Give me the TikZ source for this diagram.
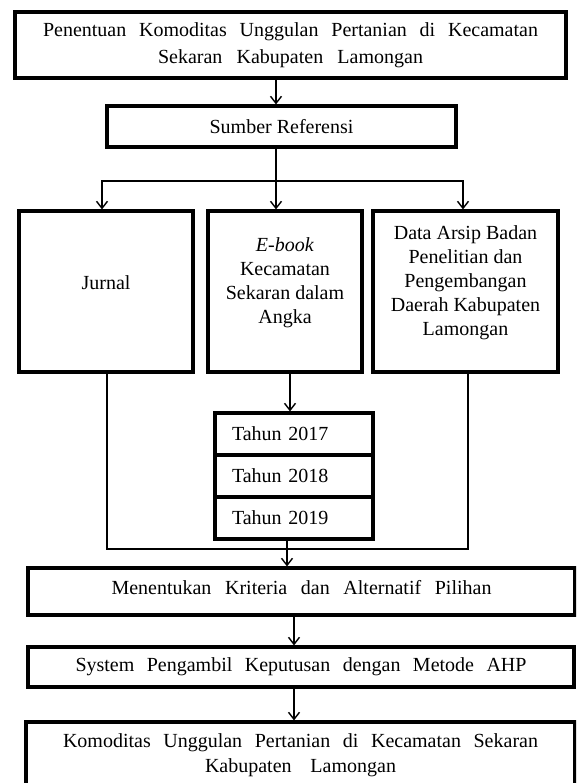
\documentclass[tikz,border=0pt]{standalone}
\usepackage{fontspec}
\setmainfont{Liberation Serif}
\usetikzlibrary{arrows.meta}
\begin{document}
\begin{tikzpicture}[x=1pt,y=-1pt,
  box/.style={draw, line width=3.2pt, inner sep=0pt, font=\fontsize{20}{24}\selectfont, align=center},
  txt/.style={inner sep=0pt, font=\fontsize{20}{24}\selectfont, align=center},
  conn/.style={line width=1.4pt},
  arr/.style={conn, -{Straight Barb[length=7pt,width=11pt,line width=1.4pt]}},
  yearbox/.style={box, minimum width=158pt, minimum height=42pt, text width=124pt, align=left, inner xsep=17pt},
]
\useasboundingbox (0,0) rectangle (576,783);
\clip (0,0) rectangle (576,783);
\fill[white] (0,0) rectangle (576,783);

% boxes
\node[box, minimum width=551pt, minimum height=66pt, font=\fontsize{20}{27}\selectfont] (judul) at (290.5,45)
  {\makebox[495pt][s]{Penentuan Komoditas Unggulan Pertanian di Kecamatan}\\\makebox[265pt][s]{Sekaran Kabupaten Lamongan}};
\node[box, minimum width=349pt, minimum height=41pt] (sumber) at (281.5,126.5) {Sumber Referensi};

\node[box, minimum width=174pt, minimum height=161pt] (jurnal) at (106,291.5) {};
\node[box, minimum width=154pt, minimum height=161pt] (ebook) at (285,291.5) {};
\node[box, minimum width=185pt, minimum height=161pt] (data) at (465.5,291.5) {};
\node[txt] (jurnalt) at ([yshift=9pt]jurnal.center) {Jurnal};
\node[txt] (ebookt) at ([yshift=9pt]ebook.center) {\textit{E-book}\\Kecamatan\\Sekaran dalam\\Angka};
\node[txt] (datat) at ([yshift=9pt]data.center) {Data Arsip Badan\\Penelitian dan\\Pengembangan\\Daerah Kabupaten\\Lamongan};

\node[yearbox] (t2017) at (294,434) {Tahun 2017};
\node[yearbox] (t2018) at (294,476) {Tahun 2018};
\node[yearbox] (t2019) at (294,518) {Tahun 2019};

\node[box, minimum width=547pt, minimum height=47pt] (menentukan) at (301.5,591.5) {};
\node[txt] (menentukant) at ([yshift=4pt]menentukan.center) {\makebox[380pt][s]{Menentukan Kriteria dan Alternatif Pilihan}};
\node[box, minimum width=546pt, minimum height=40pt] (spk) at (301,667) {\makebox[451pt][s]{System Pengambil Keputusan dengan Metode AHP}};
\node[box, minimum width=549pt, minimum height=67pt, font=\fontsize{20}{25}\selectfont] (hasil) at (300.5,755.5)
  {\makebox[475pt][s]{Komoditas Unggulan Pertanian di Kecamatan Sekaran}\\\makebox[191pt][s]{Kabupaten Lamongan}};

% connectors
\coordinate (cx) at (276,0);
\coordinate (lx) at (102,0);
\coordinate (rx) at (463,0);
\coordinate (split) at (276,181);
\draw[arr] (judul.south -| cx) -- (sumber.north -| cx);
\draw[conn] (sumber.south -| cx) -- (split);
\draw[arr] (split) -| (jurnal.north -| lx);
\draw[arr] (split) -| (data.north -| rx);
\draw[arr] (split) -- (ebook.north -| cx);

\coordinate (ex) at (290,0);
\draw[arr] (ebook.south -| ex) -- (t2017.north -| ex);

\coordinate (bl) at (107,549);
\coordinate (br) at (468,549);
\draw[conn] (jurnal.south -| bl) -- (bl) -- (br) -- (data.south -| br);

\coordinate (mx) at (287,0);
\draw[arr] (t2019.south -| mx) -- (menentukan.north -| mx);
\coordinate (sx) at (294,0);
\draw[arr] (menentukan.south -| sx) -- (spk.north -| sx);
\draw[arr] (spk.south -| sx) -- (hasil.north -| sx);
\end{tikzpicture}
\end{document}
